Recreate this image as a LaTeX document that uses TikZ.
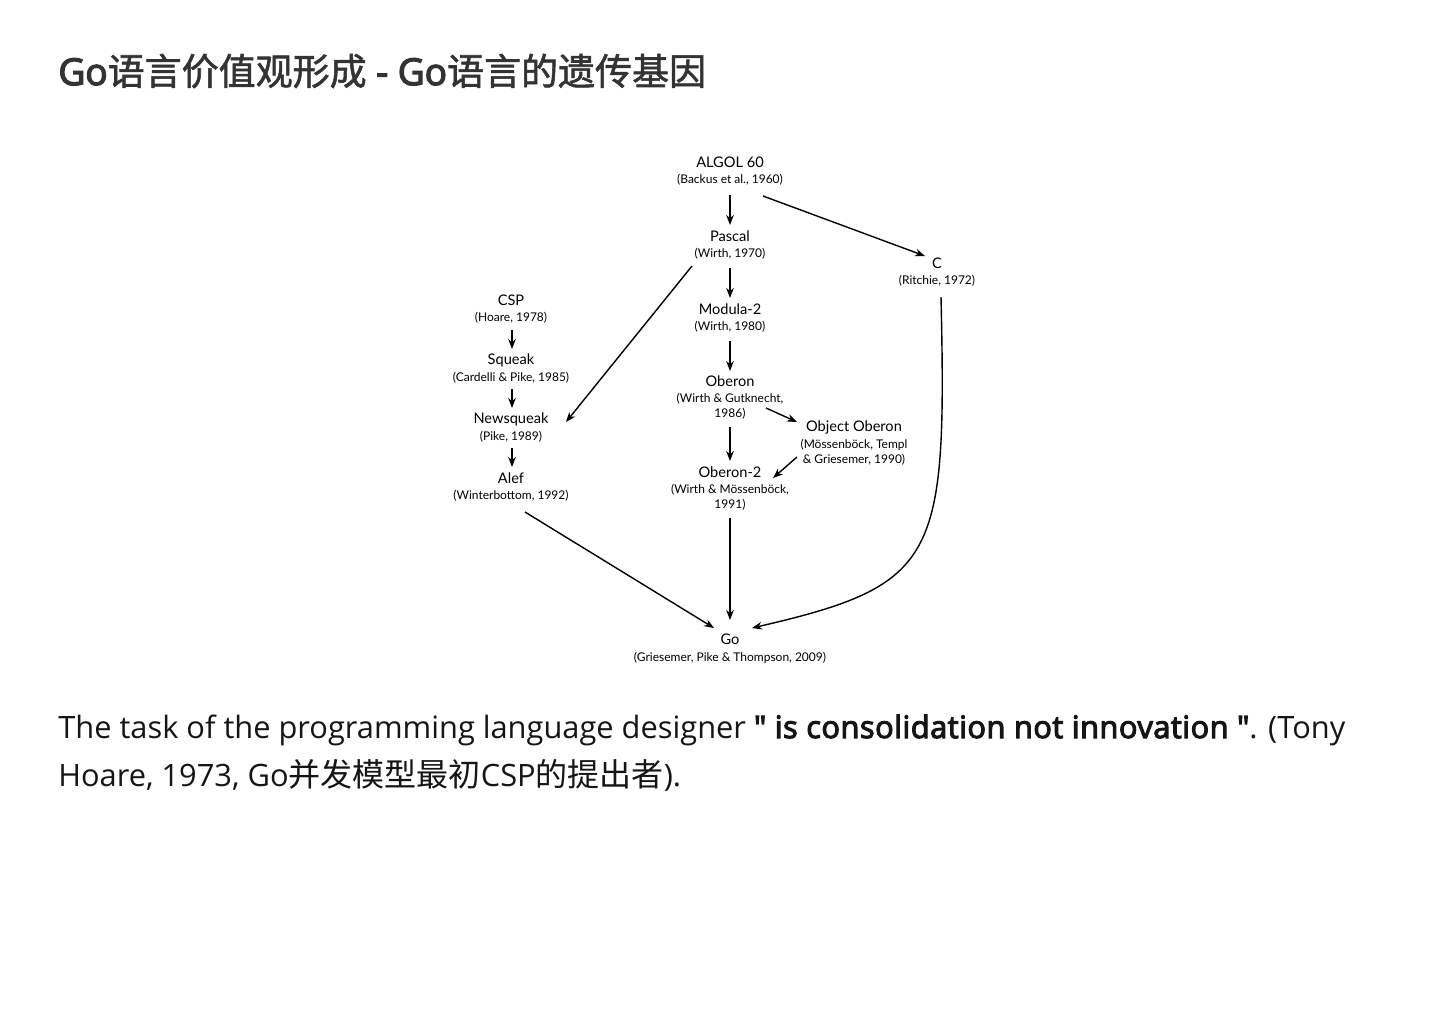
\documentclass[tikz,border=0pt]{standalone}
\usepackage{fontspec}
\setmainfont{Open Sans}
\newfontfamily\cjk{Noto Sans CJK SC}[Scale=1.04]
\newfontfamily\titlefont{Open Sans}[FakeBold=3.5]
\newfontfamily\titlecjk{Noto Sans CJK SC}[FakeBold=1.5]
\newfontfamily\semifont{Open Sans}[FakeBold=3.5,LetterSpace=1.6]
\newfontfamily\lato{Lato}
\usetikzlibrary{arrows.meta,calc}
\definecolor{titlegray}{HTML}{333333}
\definecolor{bodyink}{HTML}{151515}
\begin{document}
\begin{tikzpicture}[x=0.5pt,y=-0.5pt,
  lname/.style={inner sep=0pt,font=\lato\fontsize{7.3}{8}\selectfont},
  lsub/.style={inner sep=0pt,align=center,font=\lato\fontsize{6}{7.5}\selectfont},
  bodytext/.style={anchor=base west,inner sep=0pt,text=bodyink,font=\fontsize{15.4}{24}\selectfont},
  arr/.style={-{Stealth[length=5pt,width=3.8pt]},line width=0.7pt}]
\path[fill=white] (0,0) rectangle (1440,1018);
% title
\node[anchor=base west,inner sep=0pt,text=titlegray,font=\titlefont\fontsize{18.5}{22}\selectfont] (title) at (58,85)
  {Go{\titlecjk 语言价值观形成} - Go{\titlecjk 语言的遗传基因}};
% language nodes
\node[lname] (algol) at (730,162) {ALGOL 60};
\node[lsub] (algoly) at (730,179.5) {(Backus et al., 1960)};
\node[lname] (pascal) at (730,236) {Pascal};
\node[lsub] (pascaly) at (730,253.5) {(Wirth, 1970)};
\node[lname] (c) at (937,263) {C};
\node[lsub] (cy) at (937,280.5) {(Ritchie, 1972)};
\node[lname] (modula) at (730,309) {Modula-2};
\node[lsub] (modulay) at (730,326.5) {(Wirth, 1980)};
\node[lname] (csp) at (511,300) {CSP};
\node[lsub] (cspy) at (511,317.5) {(Hoare, 1978)};
\node[lname] (squeak) at (511,360) {Squeak};
\node[lsub] (squeaky) at (511,377.5) {(Cardelli \& Pike, 1985)};
\node[lname] (newsq) at (511,419) {Newsqueak};
\node[lsub] (newsqy) at (511,436.5) {(Pike, 1989)};
\node[lname] (alef) at (511,478) {Alef};
\node[lsub] (alefy) at (511,495.5) {(Winterbottom, 1992)};
\node[lname] (oberon) at (730,381) {Oberon};
\node[lsub] (obery) at (730,406) {(Wirth \& Gutknecht,\\1986)};
\node[lname] (objob) at (854,427) {Object Oberon};
\node[lsub] (objoby) at (854,452) {(Mössenböck, Templ\\\& Griesemer, 1990)};
\node[lname] (oberon2) at (730,472) {Oberon-2};
\node[lsub] (oberon2y) at (730,497) {(Wirth \& Mössenböck,\\1991)};
\node[lname] (go) at (730,639) {Go};
\node[lsub] (goy) at (730,657.5) {(Griesemer, Pike \& Thompson, 2009)};
% connectors
\draw[arr] ($(algoly)+(0,15.5)$) -- ($(pascal)+(0,-11)$);
\draw[arr] ($(algoly)+(33,16.5)$) -- ($(c)+(-12,-7)$);
\draw[arr] ($(pascaly)+(-38,12.5)$) -- ($(newsq)+(55,3)$);
\draw[arr] ($(pascaly)+(0,14.5)$) -- ($(modula)+(0,-11)$);
\draw[arr] ($(modulay)+(0,14.5)$) -- ($(oberon)+(0,-10)$);
\draw[arr] ($(cspy)+(1,12.5)$) -- ($(squeak)+(1,-11)$);
\draw[arr] ($(squeaky)+(1,11.5)$) -- ($(newsq)+(1,-11)$);
\draw[arr] ($(newsqy)+(1,11.5)$) -- ($(alef)+(1,-11)$);
\draw[arr] ($(obery)+(36,2)$) -- ($(objob)+(-57,-5)$);
\draw[arr] ($(obery)+(0,21)$) -- ($(oberon2)+(0,-11)$);
\draw[arr] ($(objoby)+(-57,5)$) -- ($(oberon2)+(43,6)$);
\draw[arr] ($(alefy)+(14,16.5)$) -- ($(go)+(-16,-11)$);
\draw[arr] ($(oberon2y)+(0,21)$) -- ($(go)+(0,-19)$);
\draw[arr] ($(cy)+(4,16.5)$) .. controls (947,560) and (938,585) .. ($(go)+(22,-11)$);
% body text
\node[bodytext] (line1) at (58,738)
  {The task of the programming language designer {\semifont\symbol{34} is consolidation not innovation \symbol{34}}. (Tony};
\node[bodytext] (line2) at (58,786)
  {Hoare, 1973, Go{\cjk 并发模型最初}CSP{\cjk 的提出者}).};
\end{tikzpicture}
\end{document}
